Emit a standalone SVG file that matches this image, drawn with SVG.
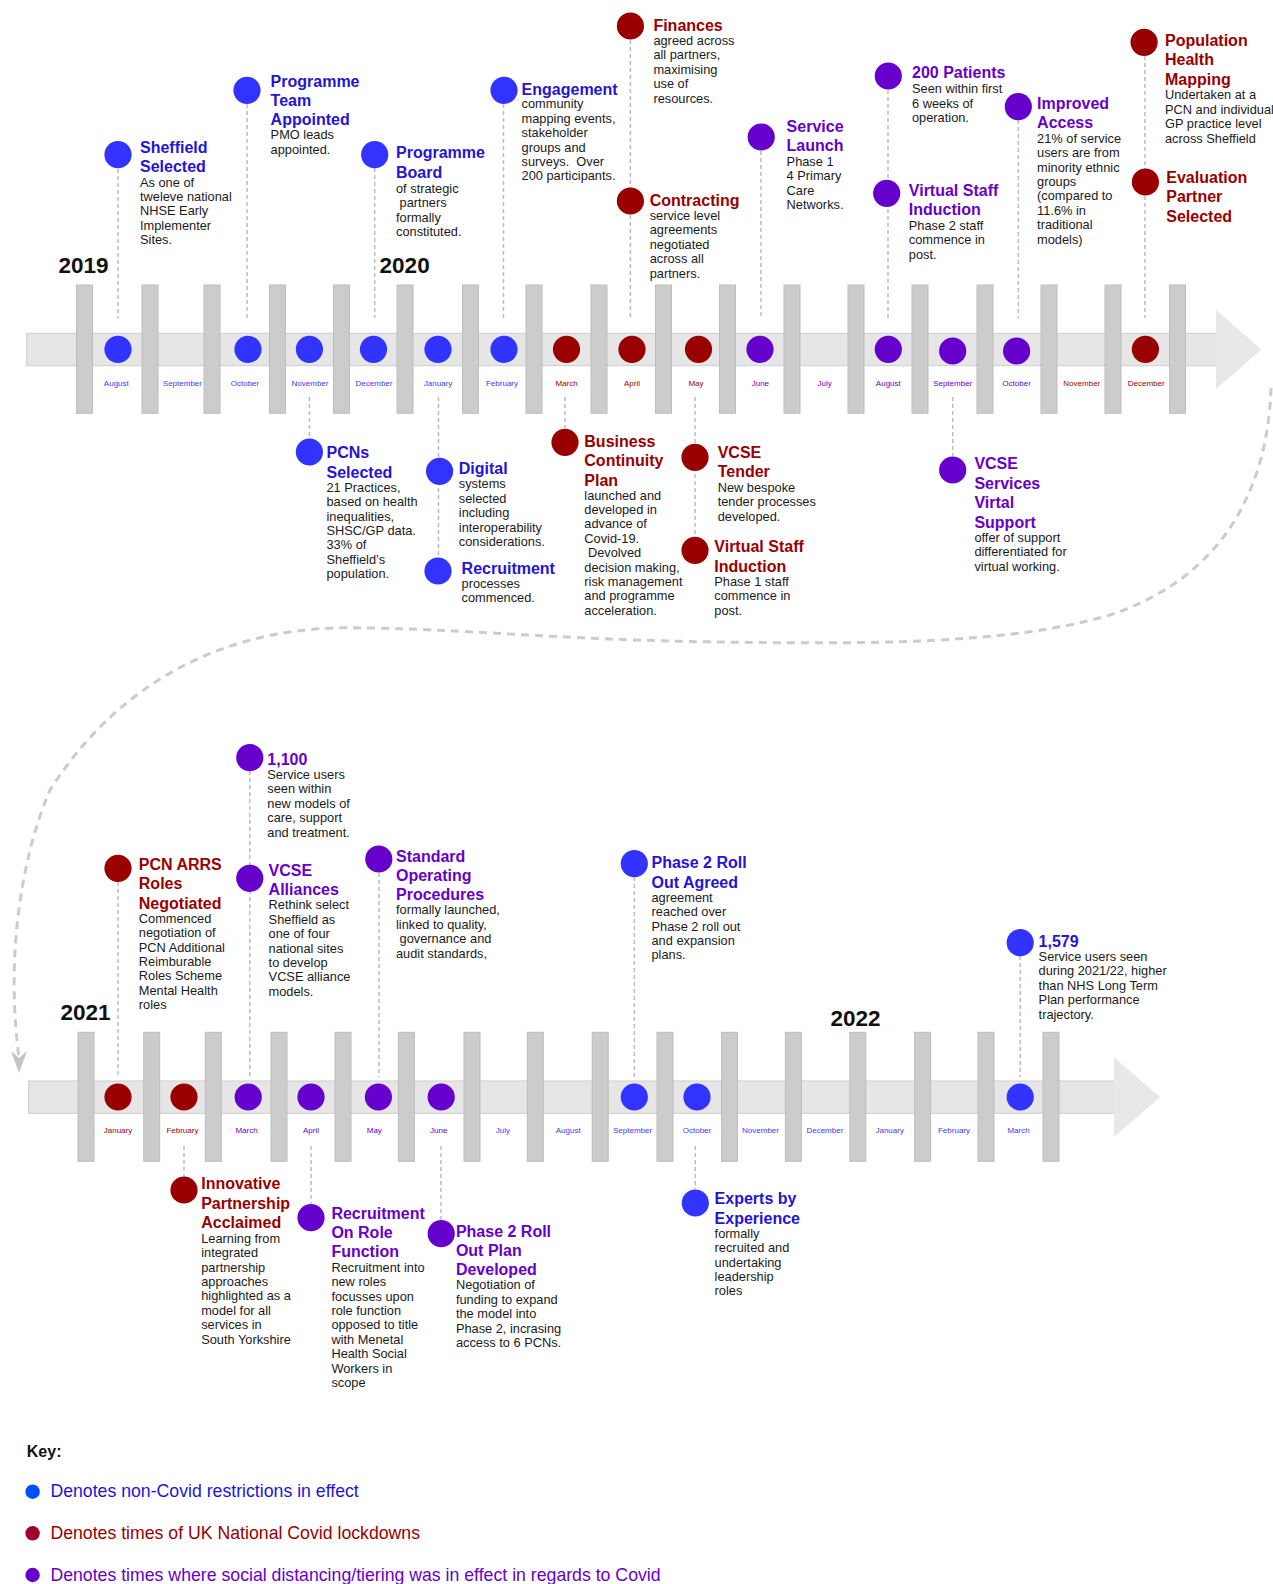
<svg xmlns="http://www.w3.org/2000/svg" width="1273" height="1584" viewBox="0 0 1273 1584">
<style>
text{font-family:"Liberation Sans",Arial,Helvetica,sans-serif}
.t{font-weight:bold;font-size:16px}
.b{font-size:12.8px;fill:#1a1a1a}
.tb{fill:#2414d8}.tr{fill:#990000}.tp{fill:#6600cc}
.cb{fill:#3333ff}.cr{fill:#990000}.cp{fill:#6600cc}
.m{font-size:8px;text-anchor:middle}
.mb{fill:#3b3bff}.mr{fill:#a00000}.mp{fill:#6a00d0}
.yr{font-weight:bold;font-size:22.5px;fill:#111}
.dl{stroke:#bcbcbc;stroke-width:1.5;stroke-dasharray:4 3;fill:none}
.band{fill:#e6e6e6;stroke:#cdcdcd;stroke-width:1}
.head{fill:#e8e8e8}
.bar{fill:#cccccc;stroke:#bdbdbd;stroke-width:1}
.key{font-size:17.7px}
</style>

<!-- timeline 1 -->
<g id="timeline-2019-2020">
<rect class="band" x="26.7" y="333.3" width="1190" height="32.4"/>
<polygon class="head" points="1216,310 1261.5,349.5 1216,389"/>
<g>
<rect class="bar" x="76.5" y="285" width="16" height="128.3"/>
<rect class="bar" x="142" y="285" width="16" height="128.3"/>
<rect class="bar" x="204" y="285" width="16" height="128.3"/>
<rect class="bar" x="269.5" y="285" width="16" height="128.3"/>
<rect class="bar" x="333.5" y="285" width="16" height="128.3"/>
<rect class="bar" x="397" y="285" width="16" height="128.3"/>
<rect class="bar" x="462.5" y="285" width="16" height="128.3"/>
<rect class="bar" x="526" y="285" width="16" height="128.3"/>
<rect class="bar" x="591" y="285" width="16" height="128.3"/>
<rect class="bar" x="655.5" y="285" width="16" height="128.3"/>
<rect class="bar" x="719.5" y="285" width="16" height="128.3"/>
<rect class="bar" x="784" y="285" width="16" height="128.3"/>
<rect class="bar" x="848" y="285" width="16" height="128.3"/>
<rect class="bar" x="912" y="285" width="16" height="128.3"/>
<rect class="bar" x="977" y="285" width="16" height="128.3"/>
<rect class="bar" x="1041" y="285" width="16" height="128.3"/>
<rect class="bar" x="1105" y="285" width="16" height="128.3"/>
<rect class="bar" x="1169.5" y="285" width="16" height="128.3"/>
</g>
<g class="m">
<text class="m mb" x="116.3" y="385.5">August</text>
<text class="m mb" x="182.4" y="385.5">September</text>
<text class="m mb" x="245" y="385.5">October</text>
<text class="m mb" x="310" y="385.5">November</text>
<text class="m mb" x="374" y="385.5">December</text>
<text class="m mb" x="438" y="385.5">January</text>
<text class="m mb" x="502" y="385.5">February</text>
<text class="m mr" x="566.5" y="385.5">March</text>
<text class="m mr" x="632" y="385.5">April</text>
<text class="m mr" x="696" y="385.5">May</text>
<text class="m mp" x="760.4" y="385.5">June</text>
<text class="m mp" x="824.7" y="385.5">July</text>
<text class="m mp" x="888.3" y="385.5">August</text>
<text class="m mp" x="952.7" y="385.5">September</text>
<text class="m mp" x="1016.6" y="385.5">October</text>
<text class="m mr" x="1081.8" y="385.5">November</text>
<text class="m mr" x="1146.2" y="385.5">December</text>
</g>
<text class="yr" x="58.4" y="273.3">2019</text>
<text class="yr" x="379.6" y="273.3">2020</text>
</g>

<!-- timeline 2 -->
<g id="timeline-2021-2022">
<rect class="band" x="28.6" y="1081" width="1086" height="32.3"/>
<polygon class="head" points="1114,1057.3 1160,1097.3 1114,1136.7"/>
<g>
<rect class="bar" x="78" y="1032.3" width="16" height="129"/>
<rect class="bar" x="143.7" y="1032.3" width="16" height="129"/>
<rect class="bar" x="205.3" y="1032.3" width="16" height="129"/>
<rect class="bar" x="271" y="1032.3" width="16" height="129"/>
<rect class="bar" x="335" y="1032.3" width="16" height="129"/>
<rect class="bar" x="398.4" y="1032.3" width="16" height="129"/>
<rect class="bar" x="464" y="1032.3" width="16" height="129"/>
<rect class="bar" x="527.3" y="1032.3" width="16" height="129"/>
<rect class="bar" x="592.2" y="1032.3" width="16" height="129"/>
<rect class="bar" x="657" y="1032.3" width="16" height="129"/>
<rect class="bar" x="721.5" y="1032.3" width="16" height="129"/>
<rect class="bar" x="785.4" y="1032.3" width="16" height="129"/>
<rect class="bar" x="849.8" y="1032.3" width="16" height="129"/>
<rect class="bar" x="914.6" y="1032.3" width="16" height="129"/>
<rect class="bar" x="978" y="1032.3" width="16" height="129"/>
<rect class="bar" x="1043" y="1032.3" width="16" height="129"/>
</g>
<text class="m mr" x="118" y="1133">January</text>
<text class="m mr" x="182.4" y="1133">February</text>
<text class="m mp" x="246.5" y="1133">March</text>
<text class="m mp" x="311" y="1133">April</text>
<text class="m mp" x="374.3" y="1133">May</text>
<text class="m mp" x="438.8" y="1133">June</text>
<text class="m mb" x="502.9" y="1133">July</text>
<text class="m mb" x="568.2" y="1133">August</text>
<text class="m mb" x="632.6" y="1133">September</text>
<text class="m mb" x="697" y="1133">October</text>
<text class="m mb" x="760.5" y="1133">November</text>
<text class="m mb" x="824.9" y="1133">December</text>
<text class="m mb" x="889.7" y="1133">January</text>
<text class="m mb" x="954" y="1133">February</text>
<text class="m mb" x="1018.5" y="1133">March</text>
<text class="yr" x="60.4" y="1020">2021</text>
<text class="yr" x="830.5" y="1025.7">2022</text>
</g>

<!-- connectors -->
<g id="connectors">
<line class="dl" x1="118" y1="169" x2="118" y2="318"/>
<line class="dl" x1="247" y1="104" x2="247" y2="318"/>
<line class="dl" x1="374.7" y1="168" x2="374.7" y2="318"/>
<line class="dl" x1="503.5" y1="104" x2="503.5" y2="318"/>
<line class="dl" x1="630.4" y1="40" x2="630.4" y2="318"/>
<line class="dl" x1="761" y1="151" x2="761" y2="318"/>
<line class="dl" x1="888" y1="90" x2="888" y2="318"/>
<line class="dl" x1="1018.3" y1="120" x2="1018.3" y2="318"/>
<line class="dl" x1="1145" y1="56" x2="1145" y2="318"/>
<line class="dl" x1="309.4" y1="397" x2="309.4" y2="438"/>
<line class="dl" x1="438.5" y1="397" x2="438.5" y2="557"/>
<line class="dl" x1="565" y1="397" x2="565" y2="428"/>
<line class="dl" x1="695" y1="397" x2="695" y2="536"/>
<line class="dl" x1="952.7" y1="397" x2="952.7" y2="456"/>
<line class="dl" x1="118" y1="882" x2="118" y2="1077"/>
<line class="dl" x1="249.8" y1="771" x2="249.8" y2="1077"/>
<line class="dl" x1="379" y1="873" x2="379" y2="1077"/>
<line class="dl" x1="634.3" y1="877" x2="634.3" y2="1077"/>
<line class="dl" x1="1020.2" y1="956" x2="1020.2" y2="1077"/>
<line class="dl" x1="184" y1="1146" x2="184" y2="1176"/>
<line class="dl" x1="311" y1="1146" x2="311" y2="1204"/>
<line class="dl" x1="441" y1="1146" x2="441" y2="1220"/>
<line class="dl" x1="695.3" y1="1146" x2="695.3" y2="1189"/>
<path d="M1271,388 C1268,480 1230,575 1110,615 C1010,645 860,644 720,642 C560,640 450,628 360,628 C230,624 120,680 50,790 C20,860 6,960 19,1058" fill="none" stroke="#cccccc" stroke-width="3" stroke-dasharray="8 6"/>
<polygon points="19,1073 11,1051 19,1058 27,1051" fill="#c4c4c4"/>
</g>

<!-- timeline month dots -->
<g id="dots-2019-2020">
<circle class="cb" cx="118" cy="349.3" r="13.6"/>
<circle class="cb" cx="248" cy="349.3" r="13.6"/>
<circle class="cb" cx="309.4" cy="349.3" r="13.6"/>
<circle class="cb" cx="373.5" cy="349.3" r="13.6"/>
<circle class="cb" cx="438" cy="349.3" r="13.6"/>
<circle class="cb" cx="504" cy="349.3" r="13.6"/>
<circle class="cr" cx="566.5" cy="349.3" r="13.6"/>
<circle class="cr" cx="632" cy="349.3" r="13.6"/>
<circle class="cr" cx="698.5" cy="349.3" r="13.6"/>
<circle class="cp" cx="760" cy="349.3" r="13.6"/>
<circle class="cp" cx="888.3" cy="349.3" r="13.6"/>
<circle class="cp" cx="952.7" cy="351" r="13.6"/>
<circle class="cp" cx="1016.6" cy="351" r="13.6"/>
<circle class="cr" cx="1145.4" cy="349.3" r="13.6"/>
</g>
<g id="dots-2021-2022">
<circle class="cr" cx="118" cy="1097" r="13.6"/>
<circle class="cr" cx="184" cy="1097" r="13.6"/>
<circle class="cp" cx="248.2" cy="1097" r="13.6"/>
<circle class="cp" cx="311" cy="1097" r="13.6"/>
<circle class="cp" cx="378.4" cy="1097" r="13.6"/>
<circle class="cp" cx="441.2" cy="1097" r="13.6"/>
<circle class="cb" cx="634.3" cy="1097" r="13.6"/>
<circle class="cb" cx="697" cy="1097" r="13.6"/>
<circle class="cb" cx="1020.2" cy="1097" r="13.6"/>
</g>

<!-- top events -->
<g id="n-sheffield-selected">
<circle class="cb" cx="118" cy="154.7" r="13.6"/>
<text class="t tb"><tspan x="140" y="152.7">Sheffield</tspan><tspan x="140" y="172.3">Selected</tspan></text>
<text class="b"><tspan x="140" y="186.7">As one of</tspan><tspan x="140" y="201">tweleve national</tspan><tspan x="140" y="215.3">NHSE Early</tspan><tspan x="140" y="229.7">Implementer</tspan><tspan x="140" y="244">Sites.</tspan></text>
</g>
<g id="n-programme-team">
<circle class="cb" cx="247" cy="90.3" r="13.6"/>
<text class="t tb"><tspan x="270.6" y="86.8">Programme</tspan><tspan x="270.6" y="105.8">Team</tspan><tspan x="270.6" y="124.8">Appointed</tspan></text>
<text class="b"><tspan x="270.6" y="139.3">PMO leads</tspan><tspan x="270.6" y="153.7">appointed.</tspan></text>
</g>
<g id="n-programme-board">
<circle class="cb" cx="374.7" cy="154.7" r="13.6"/>
<text class="t tb"><tspan x="396" y="158.2">Programme</tspan><tspan x="396" y="177.5">Board</tspan></text>
<text class="b"><tspan x="396" y="192.7">of strategic</tspan><tspan x="399.6" y="207">partners</tspan><tspan x="396" y="221.5">formally</tspan><tspan x="396" y="235.9">constituted.</tspan></text>
</g>
<g id="n-engagement">
<circle class="cb" cx="504" cy="90.3" r="13.6"/>
<text class="t tb" x="521.6" y="94.8">Engagement</text>
<text class="b" xml:space="preserve"><tspan x="521.6" y="108.3">community</tspan><tspan x="521.6" y="122.7">mapping events,</tspan><tspan x="521.6" y="137.1">stakeholder</tspan><tspan x="521.6" y="151.5">groups and</tspan><tspan x="521.6" y="165.9">surveys.  Over</tspan><tspan x="521.6" y="180.3">200 participants.</tspan></text>
</g>
<g id="n-finances">
<circle class="cr" cx="630.4" cy="26" r="13.6"/>
<text class="t tr" x="653.4" y="30.5">Finances</text>
<text class="b"><tspan x="653.4" y="45">agreed across</tspan><tspan x="653.4" y="59.4">all partners,</tspan><tspan x="653.4" y="73.8">maximising</tspan><tspan x="653.4" y="88.2">use of</tspan><tspan x="653.4" y="102.6">resources.</tspan></text>
</g>
<g id="n-contracting">
<circle class="cr" cx="630.4" cy="201" r="13.6"/>
<text class="t tr" x="649.7" y="205.5">Contracting</text>
<text class="b"><tspan x="649.7" y="220">service level</tspan><tspan x="649.7" y="234.4">agreements</tspan><tspan x="649.7" y="248.8">negotiated</tspan><tspan x="649.7" y="263.2">across all</tspan><tspan x="649.7" y="277.6">partners.</tspan></text>
</g>
<g id="n-service-launch">
<circle class="cp" cx="761.2" cy="137" r="13.6"/>
<text class="t tp"><tspan x="786.6" y="131.5">Service</tspan><tspan x="786.6" y="150.8">Launch</tspan></text>
<text class="b"><tspan x="786.6" y="165.7">Phase 1</tspan><tspan x="786.6" y="180.1">4 Primary</tspan><tspan x="786.6" y="194.5">Care</tspan><tspan x="786.6" y="208.9">Networks.</tspan></text>
</g>
<g id="n-200-patients">
<circle class="cp" cx="888.3" cy="76" r="13.6"/>
<text class="t tp" x="912" y="78.2">200 Patients</text>
<text class="b"><tspan x="912" y="93.3">Seen within first</tspan><tspan x="912" y="107.7">6 weeks of</tspan><tspan x="912" y="122.1">operation.</tspan></text>
</g>
<g id="n-virtual-staff-induction-2">
<circle class="cp" cx="886.7" cy="193.3" r="13.6"/>
<text class="t tp"><tspan x="908.8" y="195.5">Virtual Staff</tspan><tspan x="908.8" y="214.8">Induction</tspan></text>
<text class="b"><tspan x="908.8" y="230">Phase 2 staff</tspan><tspan x="908.8" y="244.4">commence in</tspan><tspan x="908.8" y="258.8">post.</tspan></text>
</g>
<g id="n-improved-access">
<circle class="cp" cx="1018.3" cy="106.7" r="13.6"/>
<text class="t tp"><tspan x="1037.1" y="108.8">Improved</tspan><tspan x="1037.1" y="128.2">Access</tspan></text>
<text class="b"><tspan x="1037.1" y="142.7">21% of service</tspan><tspan x="1037.1" y="157.1">users are from</tspan><tspan x="1037.1" y="171.5">minority ethnic</tspan><tspan x="1037.1" y="185.9">groups</tspan><tspan x="1037.1" y="200.3">(compared to</tspan><tspan x="1037.1" y="214.7">11.6% in</tspan><tspan x="1037.1" y="229.1">traditional</tspan><tspan x="1037.1" y="243.5">models)</tspan></text>
</g>
<g id="n-population-health-mapping">
<circle class="cr" cx="1144.1" cy="42.3" r="13.6"/>
<text class="t tr"><tspan x="1165" y="45.8">Population</tspan><tspan x="1165" y="65.3">Health</tspan><tspan x="1165" y="84.8">Mapping</tspan></text>
<text class="b"><tspan x="1165" y="99.3">Undertaken at a</tspan><tspan x="1165" y="113.7">PCN and individual</tspan><tspan x="1165" y="128.1">GP practice level</tspan><tspan x="1165" y="142.5">across Sheffield</tspan></text>
</g>
<g id="n-evaluation-partner">
<circle class="cr" cx="1145.4" cy="182" r="13.6"/>
<text class="t tr"><tspan x="1166.3" y="183.2">Evaluation</tspan><tspan x="1166.3" y="202.3">Partner</tspan><tspan x="1166.3" y="221.5">Selected</tspan></text>
</g>

<!-- below top timeline -->
<g id="n-pcns-selected">
<circle class="cb" cx="309.4" cy="452" r="13.6"/>
<text class="t tb"><tspan x="326.5" y="458.2">PCNs</tspan><tspan x="326.5" y="477.5">Selected</tspan></text>
<text class="b"><tspan x="326.5" y="491.7">21 Practices,</tspan><tspan x="326.5" y="506.1">based on health</tspan><tspan x="326.5" y="520.5">inequalities,</tspan><tspan x="326.5" y="534.9">SHSC/GP data.</tspan><tspan x="326.5" y="549.3">33% of</tspan><tspan x="326.5" y="563.7">Sheffield’s</tspan><tspan x="326.5" y="578.1">population.</tspan></text>
</g>
<g id="n-digital">
<circle class="cb" cx="439.6" cy="471.3" r="13.6"/>
<text class="t tb" x="458.8" y="474.2">Digital</text>
<text class="b"><tspan x="458.8" y="488.3">systems</tspan><tspan x="458.8" y="502.7">selected</tspan><tspan x="458.8" y="517.1">including</tspan><tspan x="458.8" y="531.5">interoperability</tspan><tspan x="458.8" y="545.9">considerations.</tspan></text>
</g>
<g id="n-recruitment">
<circle class="cb" cx="438" cy="571" r="13.6"/>
<text class="t tb" x="461.6" y="573.8">Recruitment</text>
<text class="b"><tspan x="461.6" y="587.7">processes</tspan><tspan x="461.6" y="602.1">commenced.</tspan></text>
</g>
<g id="n-business-continuity">
<circle class="cr" cx="565" cy="442.3" r="13.6"/>
<text class="t tr"><tspan x="584.3" y="446.7">Business</tspan><tspan x="584.3" y="466.2">Continuity</tspan><tspan x="584.3" y="485.5">Plan</tspan></text>
<text class="b"><tspan x="584.3" y="499.5">launched and</tspan><tspan x="584.3" y="513.9">developed in</tspan><tspan x="584.3" y="528.3">advance of</tspan><tspan x="584.3" y="542.7">Covid-19.</tspan><tspan x="587.9" y="557.1">Devolved</tspan><tspan x="584.3" y="571.5">decision making,</tspan><tspan x="584.3" y="585.9">risk management</tspan><tspan x="584.3" y="600.3">and programme</tspan><tspan x="584.3" y="614.7">acceleration.</tspan></text>
</g>
<g id="n-vcse-tender">
<circle class="cr" cx="695" cy="457.3" r="13.6"/>
<text class="t tr"><tspan x="717.7" y="458">VCSE</tspan><tspan x="717.7" y="477.3">Tender</tspan></text>
<text class="b"><tspan x="717.7" y="491.7">New bespoke</tspan><tspan x="717.7" y="506.1">tender processes</tspan><tspan x="717.7" y="520.5">developed.</tspan></text>
</g>
<g id="n-virtual-staff-induction-1">
<circle class="cr" cx="695" cy="550.3" r="13.6"/>
<text class="t tr"><tspan x="714.3" y="552.3">Virtual Staff</tspan><tspan x="714.3" y="571.7">Induction</tspan></text>
<text class="b"><tspan x="714.3" y="586">Phase 1 staff</tspan><tspan x="714.3" y="600.4">commence in</tspan><tspan x="714.3" y="614.8">post.</tspan></text>
</g>
<g id="n-vcse-services">
<circle class="cp" cx="952.7" cy="470" r="13.6"/>
<text class="t tp"><tspan x="974.4" y="469.2">VCSE</tspan><tspan x="974.4" y="488.7">Services</tspan><tspan x="974.4" y="508.1">Virtal</tspan><tspan x="974.4" y="527.5">Support</tspan></text>
<text class="b"><tspan x="974.4" y="541.7">offer of support</tspan><tspan x="974.4" y="556.1">differentiated for</tspan><tspan x="974.4" y="570.5">virtual working.</tspan></text>
</g>

<!-- above bottom timeline -->
<g id="n-pcn-arrs">
<circle class="cr" cx="118" cy="868.3" r="13.6"/>
<text class="t tr"><tspan x="138.8" y="870">PCN ARRS</tspan><tspan x="138.8" y="889.3">Roles</tspan><tspan x="138.8" y="908.5">Negotiated</tspan></text>
<text class="b"><tspan x="138.8" y="922.7">Commenced</tspan><tspan x="138.8" y="937.1">negotiation of</tspan><tspan x="138.8" y="951.5">PCN Additional</tspan><tspan x="138.8" y="965.9">Reimburable</tspan><tspan x="138.8" y="980.3">Roles Scheme</tspan><tspan x="138.8" y="994.7">Mental Health</tspan><tspan x="138.8" y="1009.1">roles</tspan></text>
</g>
<g id="n-1100">
<circle class="cp" cx="249.8" cy="757.7" r="13.6"/>
<text class="t tp" x="267.3" y="765">1,100</text>
<text class="b"><tspan x="267.3" y="779">Service users</tspan><tspan x="267.3" y="793.4">seen within</tspan><tspan x="267.3" y="807.8">new models of</tspan><tspan x="267.3" y="822.2">care, support</tspan><tspan x="267.3" y="836.6">and treatment.</tspan></text>
</g>
<g id="n-vcse-alliances">
<circle class="cp" cx="249.8" cy="878.3" r="13.6"/>
<text class="t tp"><tspan x="268.6" y="875.7">VCSE</tspan><tspan x="268.6" y="895">Alliances</tspan></text>
<text class="b"><tspan x="268.6" y="909.3">Rethink select</tspan><tspan x="268.6" y="923.7">Sheffield as</tspan><tspan x="268.6" y="938.1">one of four</tspan><tspan x="268.6" y="952.5">national sites</tspan><tspan x="268.6" y="966.9">to develop</tspan><tspan x="268.6" y="981.3">VCSE alliance</tspan><tspan x="268.6" y="995.7">models.</tspan></text>
</g>
<g id="n-sop">
<circle class="cp" cx="378.8" cy="859" r="13.6"/>
<text class="t tp"><tspan x="396" y="861.7">Standard</tspan><tspan x="396" y="880.9">Operating</tspan><tspan x="396" y="900.1">Procedures</tspan></text>
<text class="b"><tspan x="396" y="914.3">formally launched,</tspan><tspan x="396" y="928.7">linked to quality,</tspan><tspan x="399.6" y="943.1">governance and</tspan><tspan x="396" y="957.5">audit standards,</tspan></text>
</g>
<g id="n-phase2-agreed">
<circle class="cb" cx="634.3" cy="863.7" r="13.6"/>
<text class="t tb"><tspan x="651.5" y="868.3">Phase 2 Roll</tspan><tspan x="651.5" y="887.7">Out Agreed</tspan></text>
<text class="b"><tspan x="651.5" y="901.7">agreement</tspan><tspan x="651.5" y="916.1">reached over</tspan><tspan x="651.5" y="930.5">Phase 2 roll out</tspan><tspan x="651.5" y="944.9">and expansion</tspan><tspan x="651.5" y="959.3">plans.</tspan></text>
</g>
<g id="n-1579">
<circle class="cb" cx="1020.2" cy="942.7" r="13.6"/>
<text class="t tb" x="1038.6" y="946.7">1,579</text>
<text class="b"><tspan x="1038.6" y="961">Service users seen</tspan><tspan x="1038.6" y="975.4">during 2021/22, higher</tspan><tspan x="1038.6" y="989.8">than NHS Long Term</tspan><tspan x="1038.6" y="1004.2">Plan performance</tspan><tspan x="1038.6" y="1018.6">trajectory.</tspan></text>
</g>

<!-- below bottom timeline -->
<g id="n-innovative-partnership">
<circle class="cr" cx="184" cy="1190" r="13.6"/>
<text class="t tr"><tspan x="201.2" y="1189.3">Innovative</tspan><tspan x="201.2" y="1208.8">Partnership</tspan><tspan x="201.2" y="1228.3">Acclaimed</tspan></text>
<text class="b"><tspan x="201.2" y="1242.7">Learning from</tspan><tspan x="201.2" y="1257.1">integrated</tspan><tspan x="201.2" y="1271.5">partnership</tspan><tspan x="201.2" y="1285.9">approaches</tspan><tspan x="201.2" y="1300.3">highlighted as a</tspan><tspan x="201.2" y="1314.7">model for all</tspan><tspan x="201.2" y="1329.1">services in</tspan><tspan x="201.2" y="1343.5">South Yorkshire</tspan></text>
</g>
<g id="n-recruitment-role">
<circle class="cp" cx="311" cy="1217.7" r="13.6"/>
<text class="t tp"><tspan x="331.4" y="1218.7">Recruitment</tspan><tspan x="331.4" y="1238">On Role</tspan><tspan x="331.4" y="1257.3">Function</tspan></text>
<text class="b"><tspan x="331.4" y="1271.7">Recruitment into</tspan><tspan x="331.4" y="1286.1">new roles</tspan><tspan x="331.4" y="1300.5">focusses upon</tspan><tspan x="331.4" y="1314.9">role function</tspan><tspan x="331.4" y="1329.3">opposed to title</tspan><tspan x="331.4" y="1343.7">with Menetal</tspan><tspan x="331.4" y="1358.1">Health Social</tspan><tspan x="331.4" y="1372.5">Workers in</tspan><tspan x="331.4" y="1386.9">scope</tspan></text>
</g>
<g id="n-phase2-plan">
<circle class="cp" cx="441.2" cy="1233.7" r="13.6"/>
<text class="t tp"><tspan x="455.9" y="1236.7">Phase 2 Roll</tspan><tspan x="455.9" y="1256">Out Plan</tspan><tspan x="455.9" y="1275.3">Developed</tspan></text>
<text class="b"><tspan x="455.9" y="1289.3">Negotiation of</tspan><tspan x="455.9" y="1303.7">funding to expand</tspan><tspan x="455.9" y="1318.1">the model into</tspan><tspan x="455.9" y="1332.5">Phase 2, incrasing</tspan><tspan x="455.9" y="1346.9">access to 6 PCNs.</tspan></text>
</g>
<g id="n-experts">
<circle class="cb" cx="695.3" cy="1203" r="13.6"/>
<text class="t tb"><tspan x="714.6" y="1204.3">Experts by</tspan><tspan x="714.6" y="1223.7">Experience</tspan></text>
<text class="b"><tspan x="714.6" y="1237.7">formally</tspan><tspan x="714.6" y="1252.1">recruited and</tspan><tspan x="714.6" y="1266.5">undertaking</tspan><tspan x="714.6" y="1280.9">leadership</tspan><tspan x="714.6" y="1295.3">roles</tspan></text>
</g>

<!-- key -->
<g id="key">
<text x="26.8" y="1457.3" style="font-weight:bold;font-size:16px;fill:#111">Key:</text>
<circle cx="32.6" cy="1491.7" r="7.2" fill="#0050ff"/>
<text class="key" x="50.4" y="1497.3" fill="#2414d8">Denotes non-Covid restrictions in effect</text>
<circle cx="32.6" cy="1533.3" r="7.2" fill="#a0002a"/>
<text class="key" x="50.4" y="1539" fill="#990000">Denotes times of UK National Covid lockdowns</text>
<circle cx="32.6" cy="1575" r="7.2" fill="#6600cc"/>
<text class="key" x="50.4" y="1580.5" fill="#6600cc">Denotes times where social distancing/tiering was in effect in regards to Covid</text>
</g>
</svg>
